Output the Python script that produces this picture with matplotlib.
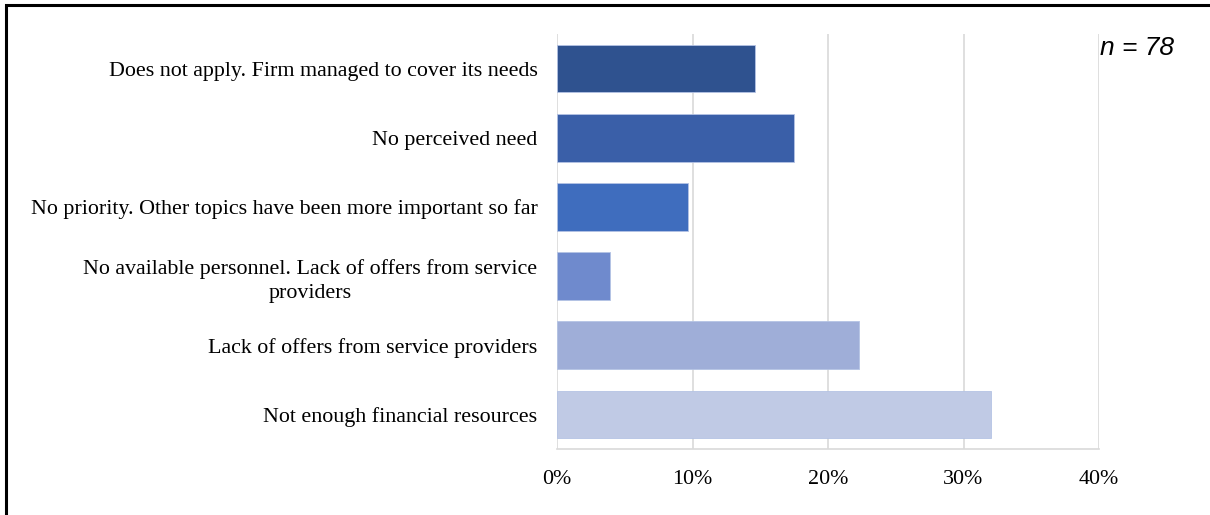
import matplotlib.pyplot as plt
from matplotlib.patches import Rectangle

categories = [
    'Does not apply. Firm managed to cover its needs',
    'No perceived need',
    'No priority. Other topics have been more important so far',
    'No available personnel. Lack of offers from service\nproviders',
    'Lack of offers from service providers',
    'Not enough financial resources',
]
shares = [14.6, 17.5, 9.7, 3.9, 22.3, 32.0]
colors = ['#2F528F', '#3A5FA8', '#3F6DBE', '#6F8ACD', '#9FAED8', '#C0CAE5']
ticks = [0, 10, 20, 30, 40]
tick_labels = ['0%', '10%', '20%', '30%', '40%']

fig = plt.figure(figsize=(12.1, 5.15), dpi=100)
ax = fig.add_axes([557 / 1210, 1 - 449 / 515, 542 / 1210, 415 / 515])

pos = list(range(len(categories)))[::-1]
ax.barh(pos, shares, height=0.69, color=colors, edgecolor='#B4C3E4', linewidth=0.6, zorder=3)

ax.set_xlim(0, 40)
ax.set_ylim(-0.5, len(categories) - 0.5)
ax.set_xticks(ticks)
ax.set_xticklabels(tick_labels, fontsize=15.8, family='Liberation Serif')
ax.set_yticks(pos)
ax.set_yticklabels(categories, fontsize=15.8, family='Liberation Serif', multialignment='center',
                   linespacing=1.35)
ax.tick_params(length=0)
ax.tick_params(axis='x', pad=15)
ax.tick_params(axis='y', pad=14)
ax.grid(axis='x', color='#D9D9D9', linewidth=1.2, zorder=0)
for s in ['top', 'right', 'left']:
    ax.spines[s].set_visible(False)
ax.spines['bottom'].set_color('#D9D9D9')
ax.spines['bottom'].set_linewidth(1.2)

fig.text(1100 / 1210, 1 - 48 / 515, 'n = 78', fontsize=19, style='italic',
         family='Liberation Sans', va='center', ha='left')

# outer frame, running off the right and bottom edges
fig.patches.append(Rectangle((6 / 1210, -0.1), 1.2, 1 - 5 / 515 + 0.1, transform=fig.transFigure,
                             fill=False, edgecolor='black', linewidth=2.2))

fig.savefig('out.png', dpi=100)
